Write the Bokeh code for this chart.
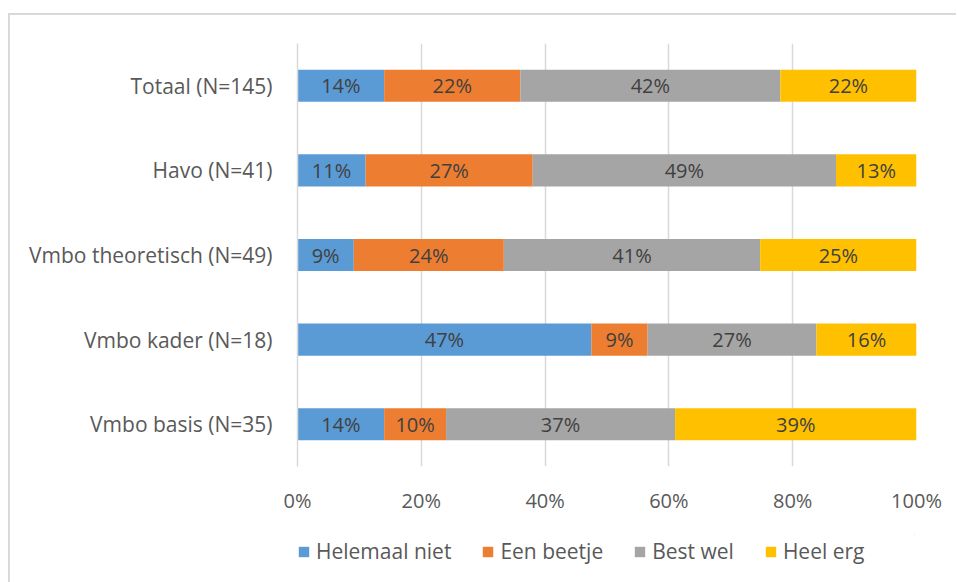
from bokeh.plotting import figure
from bokeh.layouts import column
from bokeh.models import (FactorRange, ColumnDataSource, PrintfTickFormatter, Legend,
                          LegendItem, Range1d)
from bokeh.embed import file_html
from bokeh.resources import INLINE
from bokeh.core.properties import value

categories = ["Vmbo basis (N=35)", "Vmbo kader (N=18)", "Vmbo theoretisch (N=49)",
              "Havo (N=41)", "Totaal (N=145)"]
series = ["Helemaal niet", "Een beetje", "Best wel", "Heel erg"]
helemaal_niet = [14, 47, 9, 11, 14]
een_beetje = [10, 9, 24, 27, 22]
best_wel = [37, 27, 41, 49, 42]
heel_erg = [39, 16, 25, 13, 22]
colors = ["#5B9BD5", "#ED7D31", "#A5A5A5", "#FFC000"]
x_ticks = [0, 20, 40, 60, 80, 100]

FONT = "Open Sans"
TXT = "#595959"
FS = "20px"
FS_CAT = "21px"
BORDER = "2px solid #d9d9d9"

vals = [helemaal_niet, een_beetje, best_wel, heel_erg]
totals = [sum(v[i] for v in vals) for i in range(len(categories))]

p = figure(frame_width=617, frame_height=421, y_range=FactorRange(*categories),
           x_range=Range1d(0, 100), output_backend="svg", toolbar_location=None,
           min_border_left=287, min_border_right=42, min_border_top=28, min_border_bottom=70)
p.styles = {"margin-left": "8px", "margin-top": "13px",
            "border-top": BORDER, "border-left": BORDER}

p.outline_line_color = None
p.ygrid.grid_line_color = None
p.xgrid.grid_line_color = "#d9d9d9"
p.xgrid.grid_line_width = 1.5
p.xaxis.ticker = x_ticks
p.xaxis.formatter = PrintfTickFormatter(format="%d%%")
p.xaxis.axis_line_color = None
p.xaxis.major_tick_line_color = None
p.xaxis.minor_tick_line_color = None
p.xaxis.major_tick_out = 0
p.xaxis.major_label_standoff = 20
p.xaxis.major_label_text_font = FONT
p.xaxis.major_label_text_font_size = FS
p.xaxis.major_label_text_color = TXT

p.yaxis.axis_line_color = "#d9d9d9"
p.yaxis.axis_line_width = 1.5
p.yaxis.major_tick_line_color = None
p.yaxis.minor_tick_line_color = None
p.yaxis.major_tick_out = 0
p.yaxis.major_label_standoff = 25
p.yaxis.major_label_text_font = FONT
p.yaxis.major_label_text_font_size = FS_CAT
p.yaxis.major_label_text_color = TXT

cum = [0.0] * len(categories)
for name, v, c in zip(series, vals, colors):
    left = cum[:]
    right = [cum[i] + v[i] * 100.0 / totals[i] for i in range(len(categories))]
    cum = right
    src = ColumnDataSource(dict(y=categories, left=left, right=right,
                                mid=[(a + b) / 2 for a, b in zip(left, right)],
                                lab=[f"{x}%" for x in v]))
    p.hbar(y="y", left="left", right="right", height=0.38, source=src,
           fill_color=c, line_color=None)
    p.text(x="mid", y="y", text="lab", source=src, text_align="center",
           text_baseline="middle", text_font=value(FONT), text_font_size=FS,
           text_color="#404040")

# legend strip below the chart (its swatch renderers lie outside its visible range)
lg = figure(width=946, height=48, x_range=Range1d(0, 1), y_range=Range1d(0, 1),
            x_axis_type=None, y_axis_type=None, output_backend="svg", toolbar_location=None,
            min_border_left=0, min_border_right=0, min_border_top=0, min_border_bottom=0)
lg.styles = {"margin-left": "8px", "border-left": BORDER}
lg.outline_line_color = None
lg.xgrid.visible = False
lg.ygrid.visible = False
items = []
for name, c in zip(series, colors):
    r = lg.hbar(y=[5], left=[5], right=[6], height=0.5, fill_color=c, line_color=None)
    items.append(LegendItem(label=name, renderers=[r]))
legend = Legend(items=items, orientation="horizontal", location=(0, 17),
                label_text_font=FONT, label_text_font_size=FS_CAT, label_text_color=TXT,
                glyph_width=13, glyph_height=13, spacing=30, label_standoff=6,
                background_fill_alpha=0, border_line_color=None, padding=0, margin=0)
lg.add_layout(legend, "center")

layout = column(p, lg, spacing=0)
open("out.html", "w").write(file_html(layout, INLINE))
